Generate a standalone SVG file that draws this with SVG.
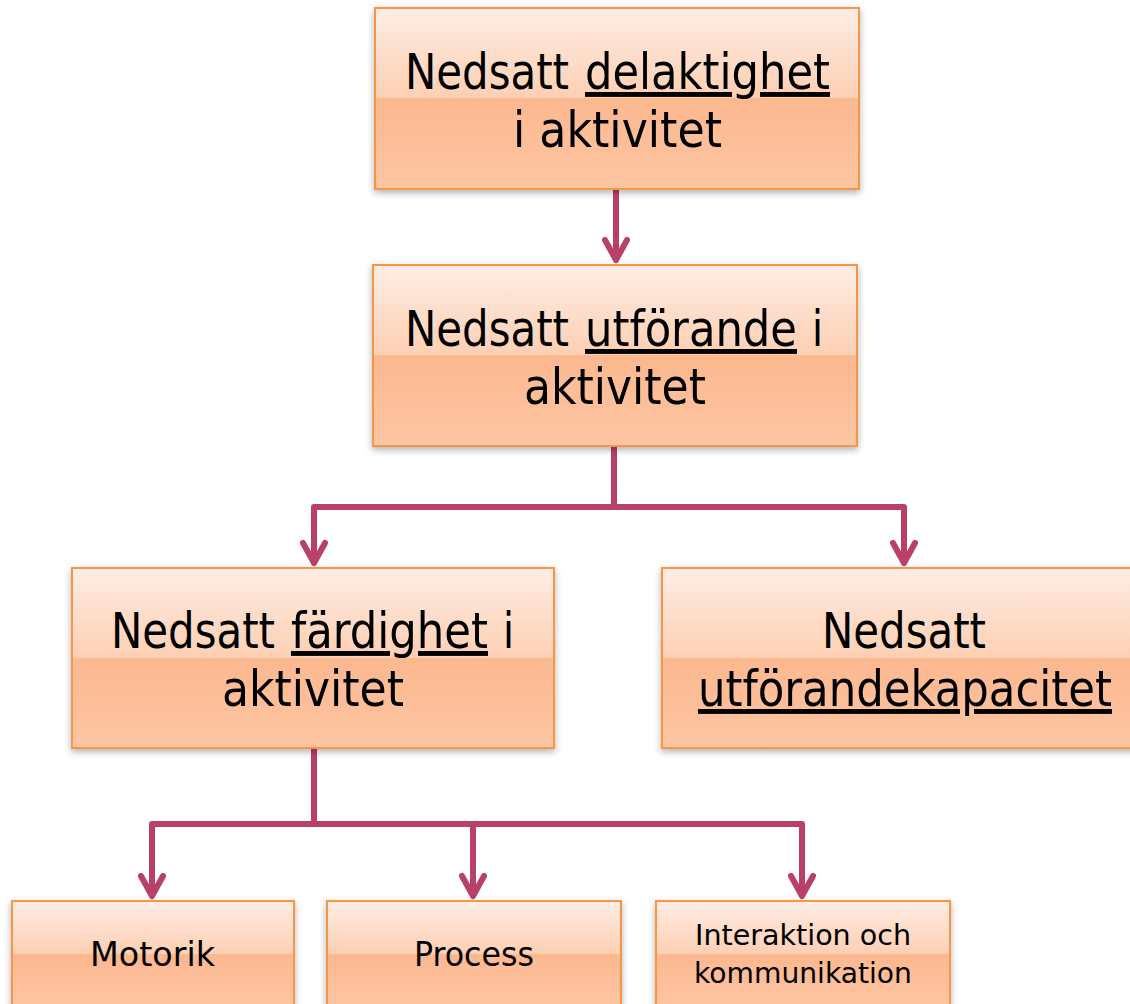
<svg xmlns="http://www.w3.org/2000/svg" width="1130" height="1004" viewBox="0 0 1130 1004">
<style>
.box{stroke:#f79646;stroke-width:2;fill:url(#g);filter:url(#sh)}
.t{font-family:"DejaVu Sans","Liberation Sans",sans-serif;font-stretch:condensed;fill:#000}
.big{font-size:49px}
.sm1{font-size:34px}
.sm2{font-size:29px}
.u{text-decoration:underline}
.c{fill:none;stroke:#b8406b;stroke-width:6;stroke-linejoin:round;marker-end:url(#arr)}
</style>
<defs>
<linearGradient id="g" x1="0" y1="0" x2="0" y2="1">
<stop offset="0" stop-color="#feede4"/>
<stop offset="0.5" stop-color="#fdcfb3"/>
<stop offset="0.5" stop-color="#fcb88f"/>
<stop offset="1" stop-color="#fdc5a3"/>
</linearGradient>
<filter id="sh" x="-10%" y="-10%" width="120%" height="130%">
<feDropShadow dx="0" dy="3" stdDeviation="3.5" flood-color="#000" flood-opacity="0.3"/>
</filter>
<marker id="arr" markerUnits="userSpaceOnUse" markerWidth="40" markerHeight="40" viewBox="-25 -20 40 40" refX="0" refY="0" orient="auto">
<path d="M-20,-11 L0,0 L-20,11" fill="none" stroke="#b8406b" stroke-width="6" stroke-linecap="round" stroke-linejoin="round"/>
</marker>
</defs>
<g id="connectors">
<path class="c" d="M616,189 V260"/>
<path class="c" d="M614,446 V507 H314 V563"/>
<path class="c" d="M614,507 H904 V563"/>
<path class="c" d="M314,748 V824 H152 V896"/>
<path class="c" d="M314,824 H473 V896"/>
<path class="c" d="M314,824 H802 V896"/>
</g>
<g id="n1">
<rect class="box" x="375" y="8" width="484" height="181"/>
<text class="t big" x="405" y="89" textLength="164" lengthAdjust="spacingAndGlyphs">Nedsatt</text>
<text class="t big u" x="585" y="89" textLength="245" lengthAdjust="spacingAndGlyphs">delaktighet</text>
<text class="t big" x="513" y="147" textLength="209" lengthAdjust="spacingAndGlyphs">i aktivitet</text>
</g>
<g id="n2">
<rect class="box" x="373" y="265" width="484" height="181"/>
<text class="t big" x="405" y="346" textLength="164" lengthAdjust="spacingAndGlyphs">Nedsatt</text>
<text class="t big u" x="585" y="346" textLength="212" lengthAdjust="spacingAndGlyphs">utförande</text>
<text class="t big" x="812" y="346" textLength="11" lengthAdjust="spacingAndGlyphs">i</text>
<text class="t big" x="524" y="404" textLength="182" lengthAdjust="spacingAndGlyphs">aktivitet</text>
</g>
<g id="n3">
<rect class="box" x="72" y="568" width="482" height="180"/>
<text class="t big" x="111" y="648" textLength="164" lengthAdjust="spacingAndGlyphs">Nedsatt</text>
<text class="t big u" x="291" y="648" textLength="197" lengthAdjust="spacingAndGlyphs">färdighet</text>
<text class="t big" x="503" y="648" textLength="11" lengthAdjust="spacingAndGlyphs">i</text>
<text class="t big" x="222" y="706" textLength="182" lengthAdjust="spacingAndGlyphs">aktivitet</text>
</g>
<g id="n4">
<rect class="box" x="662" y="568" width="484" height="180"/>
<text class="t big" x="822" y="648" textLength="164" lengthAdjust="spacingAndGlyphs">Nedsatt</text>
<text class="t big u" x="698" y="706" textLength="414" lengthAdjust="spacingAndGlyphs">utförandekapacitet</text>
</g>
<g id="n5">
<rect class="box" x="12" y="901" width="282" height="106"/>
<text class="t sm1" x="90" y="966" textLength="125" lengthAdjust="spacingAndGlyphs">Motorik</text>
</g>
<g id="n6">
<rect class="box" x="327" y="901" width="294" height="106"/>
<text class="t sm1" x="414" y="966" textLength="120" lengthAdjust="spacingAndGlyphs">Process</text>
</g>
<g id="n7">
<rect class="box" x="656" y="901" width="294" height="106"/>
<text class="t sm2" x="695" y="945" textLength="216" lengthAdjust="spacingAndGlyphs">Interaktion och</text>
<text class="t sm2" x="694" y="983" textLength="218" lengthAdjust="spacingAndGlyphs">kommunikation</text>
</g>
</svg>
